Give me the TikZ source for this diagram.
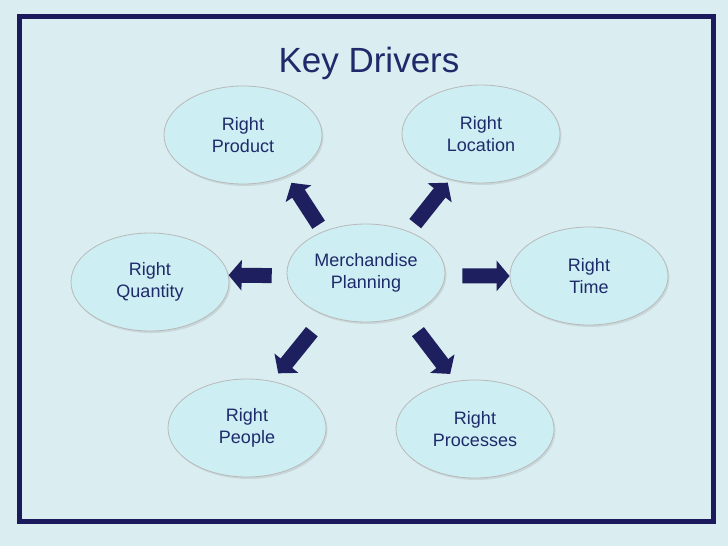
\documentclass[tikz,border=0pt]{standalone}
\usepackage{fontspec}
\setmainfont{Liberation Sans}
\usepackage{xcolor}
\usepackage{tikz}
\usetikzlibrary{shapes.geometric, arrows.meta, shadows}
\definecolor{slidebg}{HTML}{DAEDF0}
\definecolor{framenavy}{HTML}{1B1A5C}
\definecolor{textnavy}{HTML}{1F2A6A}
\definecolor{arrownavy}{HTML}{1E1F5E}
\definecolor{bubblefill}{HTML}{CDEEF3}
\tikzstyle{bubble} = [ellipse, minimum width=158pt, minimum height=98pt, inner sep=0pt, align=center, text=textnavy, font=\fontsize{18}{22}\selectfont, fill=bubblefill, draw=gray!55, line width=0.8pt, drop shadow={shadow xshift=1.5pt, shadow yshift=-2pt, opacity=0.2}]
\tikzstyle{arrow} = [line width=15pt, draw=arrownavy, -{Triangle[width=30pt,length=13pt]}]

\begin{document}
\begin{tikzpicture}[x=1pt, y=-1pt]
            \fill [slidebg] (0,0) rectangle (728,546);
            \draw [framenavy, line width=5pt] (19.5,16.5) rectangle (713.5,521.5);
            \node (title) [anchor=base, text=textnavy, font=\fontsize{35}{42}\selectfont] at (369,72.7) {Key Drivers};

            \node (plan) [bubble] at (366,273) {Merchandise\\Planning};
            \node (product) [bubble] at (243,135) {Right\\Product};
            \node (location) [bubble] at (481,134) {Right\\Location};
            \node (quantity) [bubble] at (150,282) {Right\\Quantity};
            \node (time) [bubble] at (589,276) {Right\\Time};
            \node (people) [bubble] at (247,428) {Right\\People};
            \node (processes) [bubble] at (475,429) {Right\\Processes};

            \draw [arrow, shorten <=8pt, shorten >=8pt] (plan.136) -- (product.-43);
            \draw [arrow, shorten <=10pt, shorten >=4pt] (plan.44) -- (location.236);
            \draw [arrow, shorten <=15pt] (plan.182) -- (quantity.5);
            \draw [arrow, shorten <=17pt] (plan.-2) -- (time.180);
            \draw [arrow, shorten <=21pt, shorten >=10pt] (plan.226) -- (people.62);
            \draw [arrow, shorten <=20pt, shorten >=9pt] (plan.-47) -- (processes.112);
\end{tikzpicture}
\end{document}
